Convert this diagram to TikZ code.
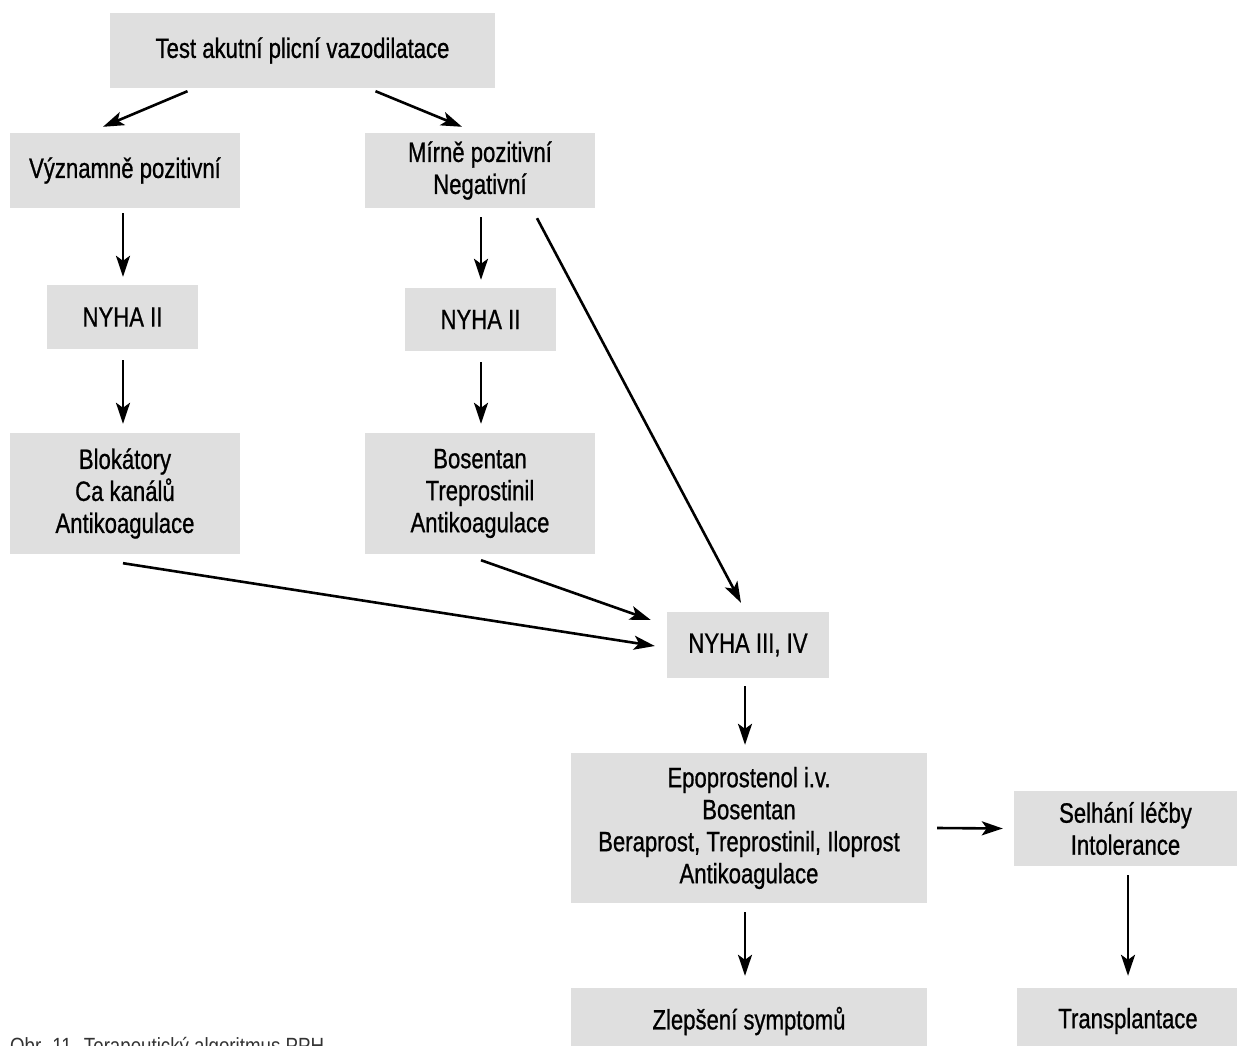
\documentclass[tikz,border=0pt]{standalone}
\usepackage{fontspec}
\setmainfont{Liberation Sans}[FakeStretch=0.79,FakeBold=0.8]
\newfontfamily\capfont{Liberation Sans}[FakeStretch=0.85]
\usetikzlibrary{arrows.meta,calc}
\definecolor{boxgray}{HTML}{DFDFDF}
\definecolor{capgray}{HTML}{333333}
\tikzset{
  box/.style={fill=boxgray, draw=none, inner sep=0pt, align=center,
    font=\fontsize{28}{32}\selectfont},
  arr/.style={line width=2.6pt, -{Stealth[length=21pt,width=14pt,inset=5pt]}}
}
\begin{document}
\begin{tikzpicture}[x=1pt,y=-1pt]
\useasboundingbox (0,0) rectangle (1237,1046);
\node[box, minimum width=385pt, minimum height=75pt] (test) at (302.5,50.5) {Test akutní plicní vazodilatace};
\node[box, minimum width=230pt, minimum height=75pt] (vp) at (125,170.5) {Významně pozitivní};
\node[box, minimum width=230pt, minimum height=75pt] (mp) at (480,170.5) {Mírně pozitivní\\Negativní};
\node[box, minimum width=151pt, minimum height=64pt] (ny1) at (122.5,317) {NYHA II};
\node[box, minimum width=151pt, minimum height=63pt] (ny2) at (480.5,319.5) {NYHA II};
\node[box, minimum width=230pt, minimum height=121pt] (blok) at (125,493.5) {Blokátory\\Ca kanálů\\Antikoagulace};
\node[box, minimum width=230pt, minimum height=121pt] (bos) at (480,493.5) {Bosentan\\Treprostinil\\Antikoagulace};
\node[box, minimum width=162pt, minimum height=66pt] (ny3) at (748,645) {NYHA III, IV};
\node[box, minimum width=356pt, minimum height=150pt] (epo) at (749,828) {Epoprostenol i.v.\\Bosentan\\Beraprost, Treprostinil, Iloprost\\Antikoagulace};
\node[box, minimum width=223pt, minimum height=75pt] (sel) at (1125.5,828.5) {Selhání léčby\\Intolerance};
\node[box, minimum width=356pt, minimum height=66pt] (zle) at (749,1021) {Zlepšení symptomů};
\node[box, minimum width=222pt, minimum height=66pt] (tra) at (1128,1021) {Transplantace};
\node[anchor=base west, inner sep=0pt, text=capgray, font=\capfont\fontsize{22}{24}\selectfont] (cap) at (10,1053) {Obr. 11. Terapeutický algoritmus PPH};

\draw[arr] ($(test.south)+(-115,3)$) -- ($(vp.north)+(-22,-6)$);
\draw[arr] ($(test.south)+(73,3)$) -- ($(mp.north)+(-18,-6)$);
\draw[arr] ($(vp.south)+(-2,5)$) -- ($(ny1.north)+(0.5,-8)$);
\draw[arr] ($(mp.south)+(1,9)$) -- ($(ny2.north)+(0.5,-8)$);
\draw[arr] ($(mp.south)+(57,10)$) -- ($(ny3.north)+(-7,-9)$);
\draw[arr] ($(ny1.south)+(0.5,11)$) -- ($(blok.north)+(-2,-9)$);
\draw[arr] ($(ny2.south)+(0.5,11)$) -- ($(bos.north)+(1,-9)$);
\draw[arr] ($(blok.south)+(-2,9)$) -- ($(ny3.west)+(-12,1)$);
\draw[arr] ($(bos.south)+(1,6)$) -- ($(ny3.west)+(-16,-25)$);
\draw[arr] ($(ny3.south)+(-3,8)$) -- ($(epo.north)+(-4,-8)$);
\draw[arr] ($(epo.east)+(10,0)$) -- ($(sel.west)+(-11,0)$);
\draw[arr] ($(epo.south)+(-4,9)$) -- ($(zle.north)+(-4,-12)$);
\draw[arr] ($(sel.south)+(2.5,9)$) -- ($(tra.north)+(0,-12)$);
\end{tikzpicture}
\end{document}
